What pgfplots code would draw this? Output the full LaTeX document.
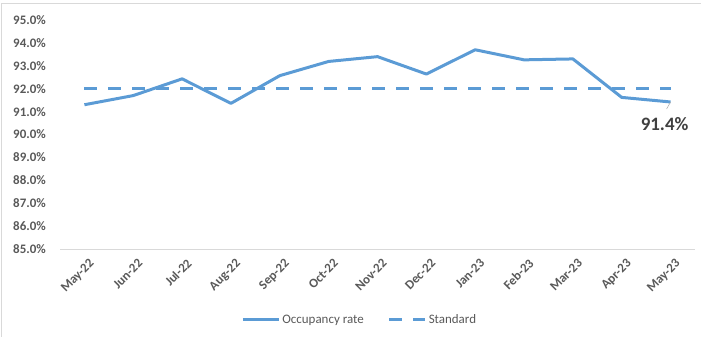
\documentclass[border=0pt]{standalone}
\usepackage{pgfplots}
\pgfplotsset{compat=1.18}
\usepackage{fontspec}
\setmainfont{Carlito}
\usetikzlibrary{calc}
\definecolor{lineblue}{HTML}{5B9BD5}
\definecolor{txtgrey}{HTML}{595959}
\definecolor{lblgrey}{HTML}{404040}
\definecolor{framegrey}{HTML}{D9D9D9}
\begin{document}
\begin{tikzpicture}
\begin{axis}[
  scale only axis, width=635bp, height=229bp,
  xmin=-0.5, xmax=12.5, ymin=85, ymax=95,
  xtick={0,...,12},
  xticklabels={May-22,Jun-22,Jul-22,Aug-22,Sep-22,Oct-22,Nov-22,Dec-22,Jan-23,Feb-23,Mar-23,Apr-23,May-23},
  ytick={85,86,...,95},
  yticklabel={\pgfmathprintnumber[fixed,fixed zerofill,precision=1]{\tick}\%},
  /pgf/number format/assume math mode=true,
  axis x line*=bottom, axis y line*=left,
  y axis line style={draw=none},
  x axis line style={draw=framegrey, line width=1bp},
  major tick length=0pt,
  tick label style={font=\fontsize{13}{15}\selectfont\bfseries, text=txtgrey},
  yticklabel style={inner sep=0pt, xshift=-14bp},
  xticklabel style={inner sep=0pt, xshift=4bp, yshift=-9bp, rotate=45, anchor=north east},
  legend style={at={(0.472,-0.31)}, anchor=center, draw=none, fill=none,
    legend columns=2, font=\fontsize{13}{15}\selectfont, text=txtgrey,
    /tikz/every even column/.append style={column sep=22bp},
    legend cell align=left},
  legend image code/.code={\draw[#1] (0bp,0bp) -- (36bp,0bp);},
]
\coordinate (sw) at (rel axis cs:0,0);
\addplot[color=lineblue, line width=3bp, line join=round] coordinates {
  (0,91.30) (1,91.70) (2,92.43) (3,91.36) (4,92.57) (5,93.19) (6,93.40)
  (7,92.64) (8,93.70) (9,93.26) (10,93.30) (11,91.62) (12,91.42)};
\addlegendentry{Occupancy rate}
\addplot[color=lineblue, line width=3bp, dash pattern=on 13bp off 11bp] coordinates {
  (0,92) (1,92) (2,92) (3,92) (4,92) (5,92) (6,92)
  (7,92) (8,92) (9,92) (10,92) (11,92) (12,92)};
\addlegendentry{Standard}
\draw[color=gray!60, line width=0.6bp] (axis cs:12,91.42) -- ++(-4bp,-7bp);
\node[font=\fontsize{19}{21}\selectfont\bfseries, text=lblgrey] at (axis cs:12,91.42) [xshift=-6bp, yshift=-22bp] {91.4\%};
\end{axis}
\draw[framegrey, line width=1bp] ($(sw)+(-58bp,-88bp)$) -- ($(sw)+(-58bp,245bp)$) -- ($(sw)+(641bp,245bp)$);
\pgfresetboundingbox
\path[use as bounding box] ($(sw)+(-60bp,-88bp)$) rectangle ++(701bp,337bp);
\end{tikzpicture}
\end{document}
